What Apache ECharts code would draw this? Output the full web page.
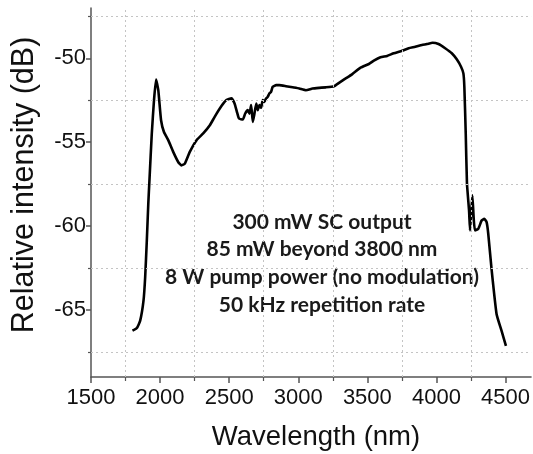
<!DOCTYPE html>
<html><head><meta charset="utf-8">
<script src="https://cdn.jsdelivr.net/npm/echarts@6/dist/echarts.min.js"></script>
<style>html,body{margin:0;padding:0;background:#fff}#c{width:533px;height:454px}</style>
</head><body><div id="c"></div>
<script>
// Wavelength (nm)
const wavelength = [1800,1832,1856,1880,1892,1904,1915,1923,1940,1956,1971,1987,2007,2028,2059,2095,2131,2155,2179,2215,2264,2312,2360,2395,2444,2480,2516,2539,2556,2571,2599,2616,2635,2647,2659,2671,2683,2696,2707,2719,2731,2743,2755,2767,2779,2791,2803,2815,2840,2863,2911,2959,3007,3055,3103,3151,3199,3259,3295,3343,3391,3451,3511,3547,3595,3643,3691,3751,3799,3847,3895,3931,3972,4015,4063,4111,4147,4178,4195,4202,4212,4221,4236,4243,4249,4260,4270,4279,4303,4327,4346,4363,4375,4398,4435,4471,4503];
// Relative intensity (dB)
const intensity = [-66.24,-66.08,-65.64,-64.45,-63.05,-60.86,-58.6,-57.27,-54.48,-52.49,-51.26,-51.9,-53.69,-54.39,-54.88,-55.58,-56.18,-56.38,-56.28,-55.58,-54.88,-54.48,-53.99,-53.49,-52.85,-52.49,-52.39,-52.69,-53.19,-53.59,-53.65,-53.29,-53.09,-53.3,-52.79,-53.79,-53.29,-52.69,-53.09,-52.79,-52.95,-52.49,-52.6,-52.39,-52.3,-52.09,-52.0,-51.7,-51.6,-51.6,-51.66,-51.73,-51.8,-51.9,-51.8,-51.76,-51.73,-51.66,-51.46,-51.2,-50.94,-50.56,-50.34,-50.14,-49.94,-49.86,-49.7,-49.55,-49.4,-49.31,-49.2,-49.15,-49.07,-49.15,-49.4,-49.7,-50.06,-50.5,-50.9,-51.7,-54.48,-57.47,-59.07,-60.26,-59.5,-58.17,-59.6,-60.26,-60.16,-59.67,-59.57,-59.77,-60.46,-62.5,-65.24,-66.24,-67.14];

const xMajor = [1500,2000,2500,3000,3500,4000,4500];
const xMinor = [1750,2250,2750,3250,3750,4250];
const yMajor = [-65,-60,-55,-50];
const yMinor = [-67.5,-62.5,-57.5,-52.5,-47.5];
const annotation = ['300 mW SC output','85 mW beyond 3800 nm','8 W pump power (no modulation)','50 kHz repetition rate'];
const xTitle = 'Wavelength (nm)';
const yTitle = 'Relative intensity (dB)';

const chart = echarts.init(document.getElementById('c'), null, {renderer:'canvas'});
const FONT = 'Liberation Sans, Arial, sans-serif';
const axisCommon = {type:'value', min:1500, max:4685};
const yCommon = {type:'value', min:-69, max:-47};
const lineColor = '#555';
chart.setOption({
  animation:false,
  grid:{left:91, right:0, top:8, bottom:77, containLabel:false},
  xAxis:[
    Object.assign({}, axisCommon, {
      axisLine:{show:true, onZero:false, lineStyle:{color:lineColor, width:1.5}},
      axisTick:{show:true, inside:false, length:6, customValues:xMajor, lineStyle:{color:lineColor, width:1.5}},
      axisLabel:{show:true, customValues:xMajor, formatter:v=>String(v), fontSize:22, color:'#111', fontFamily:FONT, margin:10},
      splitLine:{show:false}
    }),
    Object.assign({}, axisCommon, {
      position:'bottom',
      axisLine:{show:false},
      axisTick:{show:true, length:4, customValues:xMinor, lineStyle:{color:lineColor, width:1.2}},
      axisLabel:{show:false},
      splitLine:{show:false}
    })
  ],
  yAxis:[
    Object.assign({}, yCommon, {
      axisLine:{show:true, onZero:false, lineStyle:{color:lineColor, width:1.5}},
      axisTick:{show:true, length:5, customValues:yMajor, lineStyle:{color:lineColor, width:1.5}},
      axisLabel:{show:true, customValues:yMajor, formatter:v=>String(v), fontSize:22, color:'#111', fontFamily:FONT, margin:5},
      splitLine:{show:false}
    }),
    Object.assign({}, yCommon, {
      position:'left',
      axisLine:{show:false},
      axisTick:{show:true, length:3, customValues:yMinor, lineStyle:{color:lineColor, width:1.2}},
      axisLabel:{show:false},
      splitLine:{show:false}
    })
  ],
  series:[
    {
      type:'line', data:[], z:1, silent:true,
      markLine:{
        silent:true, symbol:['none','none'], animation:false,
        label:{show:false},
        lineStyle:{color:'#c4c4c4', type:[2,3], width:1},
        data: xMinor.map(v=>({xAxis:v})).concat(yMinor.map(v=>({yAxis:v})))
      }
    },
    {
      type:'line', z:3, silent:true,
      data: wavelength.map((w,i)=>[w, intensity[i]]),
      showSymbol:false, smooth:0.15,
      lineStyle:{color:'#000', width:2.6}
    }
  ],
  graphic:[
    {type:'text', x:316, y:437, style:{text:xTitle, font:'27.5px '+FONT, fill:'#111', align:'center', verticalAlign:'middle'}},
    {type:'text', x:25, y:185, rotation:Math.PI/2, style:{text:yTitle, font:'30.5px '+FONT, fill:'#111', align:'center', verticalAlign:'middle'}}
  ].concat(annotation.map((t,i)=>({
    type:'text', x:322, y:222+i*27.7,
    style:{text:t, font:'bold 21px Lato, "Open Sans", sans-serif', fill:'#1a1a1a', align:'center', verticalAlign:'middle'}
  })))
});
</script>
</body></html>
